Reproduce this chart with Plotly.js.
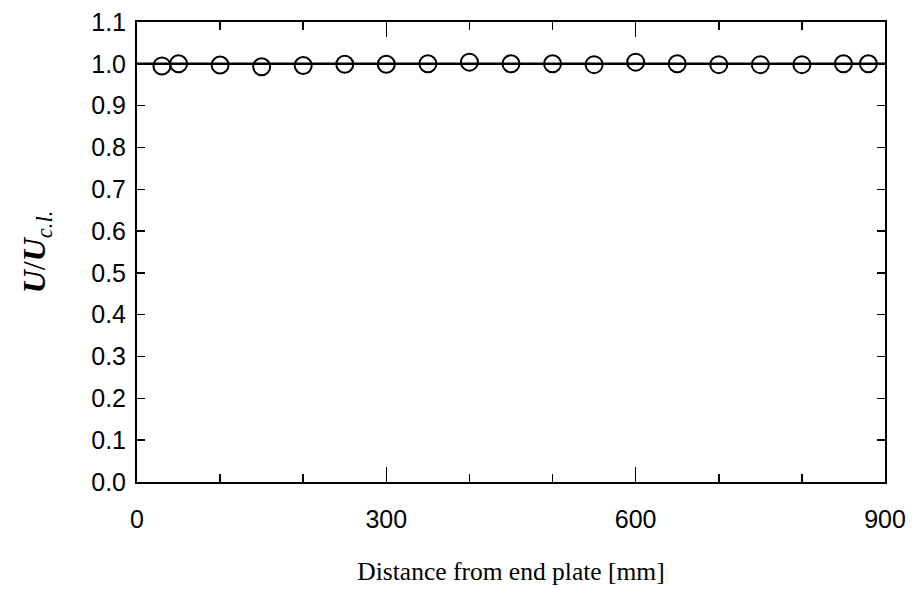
<!DOCTYPE html>
<html>
<head>
<meta charset="utf-8">
<script src="https://cdn.plot.ly/plotly-3.0.1.min.js"></script>
<style>html,body{margin:0;padding:0;background:#fff;}#chart{width:915px;height:589px;}</style>
</head>
<body>
<div id="chart"></div>
<script>
const distance = [30, 50, 100, 150, 200, 250, 300, 350, 400, 450, 500, 550, 600, 650, 700, 750, 800, 850, 880];
const ratio = [0.995, 1.0, 0.997, 0.993, 0.996, 0.999, 0.999, 1.0, 1.004, 1.0, 1.0, 0.998, 1.004, 1.0, 0.998, 0.998, 0.998, 1.0, 1.0];
const refX = [0, 900];
const refY = [1.0, 1.0];
const xTickVals = [0, 300, 600, 900];
const xTickText = ['0', '300', '600', '900'];
const yTickVals = [0, 0.1, 0.2, 0.3, 0.4, 0.5, 0.6, 0.7, 0.8, 0.9, 1.0, 1.1];
const yTickText = ['0.0', '0.1', '0.2', '0.3', '0.4', '0.5', '0.6', '0.7', '0.8', '0.9', '1.0', '1.1'];

const traces = [
  {x: refX, y: refY, mode: 'lines', line: {color: '#000', width: 2.5}, hoverinfo: 'skip'},
  {x: distance, y: ratio, mode: 'markers',
   marker: {symbol: 'circle-open', size: 17, color: '#000', line: {color: '#000', width: 2}}}
];

const layout = {
  width: 915, height: 589,
  margin: {l: 137, r: 30, t: 22, b: 107},
  paper_bgcolor: '#fff', plot_bgcolor: '#fff',
  showlegend: false,
  xaxis: {
    range: [0, 900], showgrid: false, zeroline: false,
    showline: true, linecolor: '#000', linewidth: 2, mirror: 'ticks',
    ticks: 'inside', ticklen: 15, tickwidth: 1.5, tickcolor: '#000',
    tickmode: 'array', tickvals: xTickVals, ticktext: xTickText,
    ticklabelstandoff: 14,
    minor: {dtick: 100, tick0: 0, ticks: 'inside', ticklen: 8, tickwidth: 1.5, tickcolor: '#000', showgrid: false},
    tickfont: {family: 'Liberation Sans, Arial, sans-serif', size: 25, color: '#000'},
    title: {text: 'Distance from end plate [mm]', standoff: 30,
            font: {family: 'Liberation Serif, Times New Roman, serif', size: 25.5, color: '#000'}}
  },
  yaxis: {
    range: [0, 1.1], showgrid: false, zeroline: false,
    showline: true, linecolor: '#000', linewidth: 2, mirror: 'ticks',
    ticks: 'inside', ticklen: 8, tickwidth: 1.5, tickcolor: '#000',
    tickmode: 'array', tickvals: yTickVals, ticktext: yTickText,
    ticklabelstandoff: 4,
    tickfont: {family: 'Liberation Sans, Arial, sans-serif', size: 25, color: '#000'},
    title: {text: '<i><b>U</b></i>/<i><b>U</b></i><sub><i>c.l.</i></sub>', standoff: 36,
            font: {family: 'Liberation Serif, Times New Roman, serif', size: 32, color: '#000'}}
  }
};

Plotly.newPlot('chart', traces, layout, {displayModeBar: false, staticPlot: true});
</script>
</body>
</html>
